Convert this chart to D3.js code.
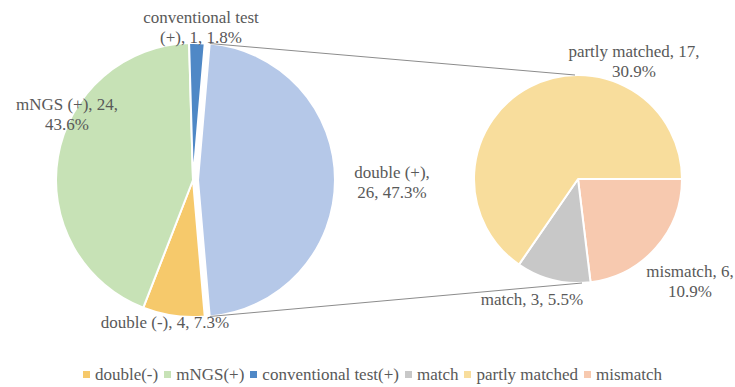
<!DOCTYPE html>
<html>
<head>
<meta charset="utf-8">
<script src="https://cdn.jsdelivr.net/npm/d3@7"></script>
</head>
<body style="margin:0">
<div id="wrap" style="position:relative;width:735px;height:387px;overflow:hidden">
<svg id="chart" width="735" height="387"></svg>
<div id="legend"></div>
</div>
<script>
// Primary pie: overall test outcome counts
const mainCategories = ["double(-)", "mNGS(+)", "conventional test(+)", "double(+)"];
const mainLabels = ["double (-)", "mNGS (+)", "conventional test (+)", "double (+)"];
const mainValues = [4, 24, 1, 26];
const mainColors = ["#F6C96B", "#C7E2B6", "#4F88C6", "#B5C8E8"];

// Secondary pie: breakdown of the double(+) cases
const subCategories = ["match", "partly matched", "mismatch"];
const subValues = [3, 17, 6];
const subColors = ["#C8C8C8", "#F8DD9C", "#F7C9AF"];

const legendCategories = ["double(-)", "mNGS(+)", "conventional test(+)", "match", "partly matched", "mismatch"];
const legendColors = ["#F6C96B", "#C7E2B6", "#4F88C6", "#C8C8C8", "#F8DD9C", "#F7C9AF"];

const FONT = '"Liberation Serif"';
const TEXT_COLOR = "#595959";

const total = d3.sum(mainValues);
const fmtPct = v => (v / total * 100).toFixed(1) + "%";

const svg = d3.select("#chart");

// geometry
const P1 = { cx: 193, cy: 180, r: 137 };
const P2 = { cx: 578, cy: 179, r: 104 };
const explode = 5;

// --- primary pie: split slice centered at 3 o'clock
const splitIdx = 3;
const splitAngle = mainValues[splitIdx] / total * 2 * Math.PI;
const order1 = [3, 0, 1, 2];
const pie1 = d3.pie().sort(null).value(i => mainValues[i])
  .startAngle(Math.PI / 2 - splitAngle / 2)
  .endAngle(Math.PI / 2 - splitAngle / 2 + 2 * Math.PI);
const arcs1 = pie1(order1);
const arc1 = d3.arc().innerRadius(0).outerRadius(P1.r);

const g1 = svg.append("g").attr("transform", `translate(${P1.cx},${P1.cy})`);
g1.selectAll("path").data(arcs1).join("path")
  .attr("d", arc1)
  .attr("fill", d => mainColors[d.data])
  .attr("stroke", "#fff").attr("stroke-width", 2).attr("stroke-linejoin", "round")
  .attr("transform", d => {
    if (d.data !== splitIdx) return null;
    const mid = (d.startAngle + d.endAngle) / 2;
    return `translate(${explode * Math.sin(mid)},${-explode * Math.cos(mid)})`;
  });

// --- secondary pie
const order2 = [2, 0, 1];
const pie2 = d3.pie().sort(null).value(i => subValues[i])
  .startAngle(Math.PI / 2).endAngle(Math.PI / 2 + 2 * Math.PI);
const arcs2 = pie2(order2);
const arc2 = d3.arc().innerRadius(0).outerRadius(P2.r);
const g2 = svg.append("g").attr("transform", `translate(${P2.cx},${P2.cy})`);
g2.selectAll("path").data(arcs2).join("path")
  .attr("d", arc2)
  .attr("fill", d => subColors[d.data])
  .attr("stroke", "#fff").attr("stroke-width", 2).attr("stroke-linejoin", "round");

// --- series lines from the split slice to the secondary pie
const split = arcs1.find(d => d.data === splitIdx);
const midS = (split.startAngle + split.endAngle) / 2;
const ox = P1.cx + explode * Math.sin(midS), oy = P1.cy - explode * Math.cos(midS);
const ptOn = (a, r) => [ox + r * Math.sin(a), oy - r * Math.cos(a)];
const [tx, ty] = ptOn(split.startAngle, P1.r);
const [bx, by] = ptOn(split.endAngle, P1.r);
const connectors = [
  [[tx, ty], [P2.cx - 3, P2.cy - P2.r]],
  [[bx, by], [P2.cx + 4, P2.cy + P2.r]]
];
svg.append("g").selectAll("line").data(connectors).join("line")
  .attr("x1", d => d[0][0]).attr("y1", d => d[0][1])
  .attr("x2", d => d[1][0]).attr("y2", d => d[1][1])
  .attr("stroke", "#8C8C8C").attr("stroke-width", 1);

// --- data labels (category, value, percent)
const fs = 17;
const mainLabelLayout = [
  { x: 165, y: 328, lines: i => [`${mainLabels[i]}, ${mainValues[i]}, ${fmtPct(mainValues[i])}`] },
  { x: 67, y: 110, lines: i => [`${mainLabels[i]}, ${mainValues[i]},`, fmtPct(mainValues[i])] },
  { x: 201, y: 23, lines: i => ["conventional test", `(+), ${mainValues[i]}, ${fmtPct(mainValues[i])}`] },
  { x: 392, y: 178, lines: i => [`${mainLabels[i]},`, `${mainValues[i]}, ${fmtPct(mainValues[i])}`] }
];
const subLabelLayout = [
  { x: 532, y: 305, lines: i => [`${subCategories[i]}, ${subValues[i]}, ${fmtPct(subValues[i])}`] },
  { x: 634, y: 57, lines: i => [`${subCategories[i]}, ${subValues[i]},`, fmtPct(subValues[i])] },
  { x: 690, y: 277, lines: i => [`${subCategories[i]}, ${subValues[i]},`, fmtPct(subValues[i])] }
];

function drawLabel(layout, i) {
  const t = svg.append("text")
    .attr("x", layout.x).attr("y", layout.y)
    .attr("font-size", fs)
    .style("font-family", FONT)
    .attr("text-anchor", "middle")
    .attr("fill", TEXT_COLOR);
  layout.lines(i).forEach((s, k) => {
    t.append("tspan").attr("x", layout.x).attr("dy", k === 0 ? 0 : 20).text(s);
  });
}
mainLabelLayout.forEach((l, i) => drawLabel(l, i));
subLabelLayout.forEach((l, i) => drawLabel(l, i));

// --- legend (flows as inline text, centered under the pies)
const legendBox = d3.select("#legend")
  .style("position", "absolute").style("left", "10px").style("width", "725px").style("top", "366px")
  .style("text-align", "center").style("white-space", "nowrap")
  .style("font-family", FONT).style("font-size", fs + "px").style("line-height", fs + "px")
  .style("color", TEXT_COLOR);
const items = legendBox.selectAll("span.item")
  .data(legendCategories).join("span").attr("class", "item")
  .style("margin-right", (d, i) => i < legendCategories.length - 1 ? "6px" : "0px");
items.append("span")
  .style("display", "inline-block").style("width", "7px").style("height", "7px")
  .style("margin-right", "5px").style("vertical-align", "2px")
  .style("background", (d, i) => legendColors[i]);
items.append("span").text(d => d);
</script>
</body>
</html>
